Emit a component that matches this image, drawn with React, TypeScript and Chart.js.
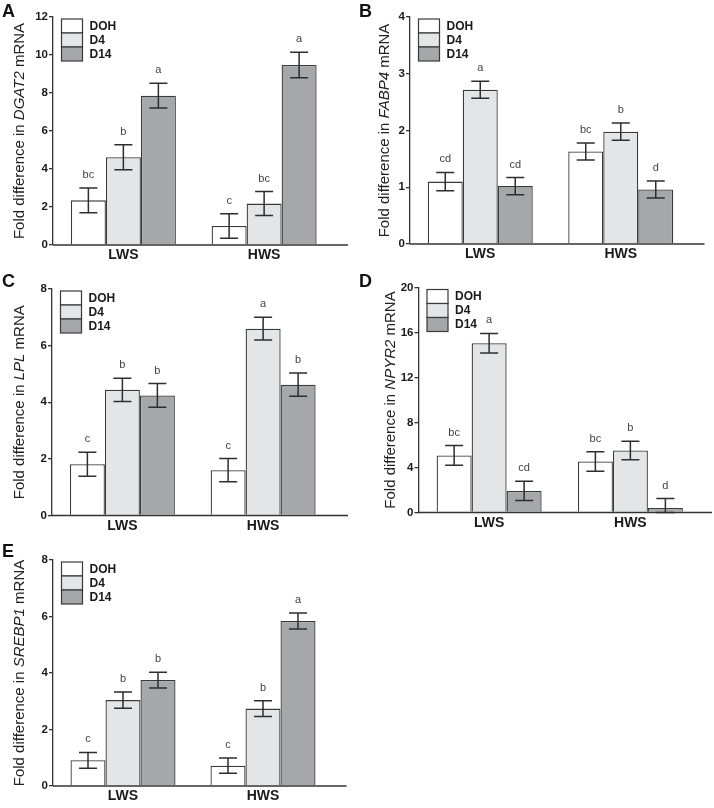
import React, { useEffect, useRef } from 'react';
import { Chart, registerables } from 'chart.js';

Chart.register(...registerables);

const FONT = '"Liberation Sans", Arial, Helvetica, sans-serif';

const categories = ['LWS', 'HWS'];
const seriesLabels = ['DOH', 'D4', 'D14'];
const seriesColors = ['#ffffff', '#e4e5e7', '#a6a7aa'];

// A: DGAT2
const dgat2DOH = [2.35, 1.0];
const dgat2D4 = [4.62, 2.18];
const dgat2D14 = [7.86, 9.47];
const dgat2ErrDOH = [0.65, 0.65];
const dgat2ErrD4 = [0.66, 0.63];
const dgat2ErrD14 = [0.65, 0.67];
const dgat2LetDOH = ['bc', 'c'];
const dgat2LetD4 = ['b', 'bc'];
const dgat2LetD14 = ['a', 'a'];

// B: FABP4
const fabp4DOH = [1.1, 1.63];
const fabp4D4 = [2.72, 1.98];
const fabp4D14 = [1.02, 0.96];
const fabp4ErrDOH = [0.16, 0.15];
const fabp4ErrD4 = [0.15, 0.15];
const fabp4ErrD14 = [0.15, 0.15];
const fabp4LetDOH = ['cd', 'bc'];
const fabp4LetD4 = ['a', 'b'];
const fabp4LetD14 = ['cd', 'd'];

// C: LPL
const lplDOH = [1.81, 1.6];
const lplD4 = [4.44, 6.6];
const lplD14 = [4.24, 4.62];
const lplErrDOH = [0.42, 0.41];
const lplErrD4 = [0.41, 0.4];
const lplErrD14 = [0.42, 0.41];
const lplLetDOH = ['c', 'c'];
const lplLetD4 = ['b', 'a'];
const lplLetD14 = ['b', 'b'];

// D: NPYR2
const npyr2DOH = [5.07, 4.53];
const npyr2D4 = [15.05, 5.51];
const npyr2D14 = [1.92, 0.41];
const npyr2ErrDOH = [0.88, 0.86];
const npyr2ErrD4 = [0.87, 0.82];
const npyr2ErrD14 = [0.86, 0.83];
const npyr2LetDOH = ['bc', 'bc'];
const npyr2LetD4 = ['a', 'b'];
const npyr2LetD14 = ['cd', 'd'];

// E: SREBP1
const srebp1DOH = [0.91, 0.72];
const srebp1D4 = [3.04, 2.74];
const srebp1D14 = [3.75, 5.84];
const srebp1ErrDOH = [0.28, 0.27];
const srebp1ErrD4 = [0.29, 0.28];
const srebp1ErrD14 = [0.28, 0.28];
const srebp1LetDOH = ['c', 'c'];
const srebp1LetD4 = ['b', 'b'];
const srebp1LetD14 = ['b', 'a'];

type Panel = {
  letter: string;
  gene: string;
  left: number;
  top: number;
  width: number;
  height: number;
  area: { l: number; t: number; r: number; b: number };
  axisExt: number;
  yMax: number;
  yStep: number;
  titleX: number;
  means: number[][];
  errs: number[][];
  letters: string[][];
};

const panels: Panel[] = [
  {
    letter: 'A', gene: 'DGAT2', left: 0, top: 0, width: 357, height: 270,
    area: { l: 53, t: 17, r: 334.5, b: 245 }, axisExt: 13.5, yMax: 12, yStep: 2, titleX: 19.5,
    means: [dgat2DOH, dgat2D4, dgat2D14], errs: [dgat2ErrDOH, dgat2ErrD4, dgat2ErrD14],
    letters: [dgat2LetDOH, dgat2LetD4, dgat2LetD14],
  },
  {
    letter: 'B', gene: 'FABP4', left: 357, top: 0, width: 357, height: 270,
    area: { l: 53, t: 17, r: 334, b: 244 }, axisExt: 13.5, yMax: 4, yStep: 1, titleX: 28,
    means: [fabp4DOH, fabp4D4, fabp4D14], errs: [fabp4ErrDOH, fabp4ErrD4, fabp4ErrD14],
    letters: [fabp4LetDOH, fabp4LetD4, fabp4LetD14],
  },
  {
    letter: 'C', gene: 'LPL', left: 0, top: 270, width: 357, height: 270,
    area: { l: 52, t: 19, r: 333.5, b: 245.5 }, axisExt: 14.5, yMax: 8, yStep: 2, titleX: 19.5,
    means: [lplDOH, lplD4, lplD14], errs: [lplErrDOH, lplErrD4, lplErrD14],
    letters: [lplLetDOH, lplLetD4, lplLetD14],
  },
  {
    letter: 'D', gene: 'NPYR2', left: 357, top: 270, width: 357, height: 270,
    area: { l: 61.5, t: 17.5, r: 344, b: 242.5 }, axisExt: 11, yMax: 20, yStep: 4, titleX: 34,
    means: [npyr2DOH, npyr2D4, npyr2D14], errs: [npyr2ErrDOH, npyr2ErrD4, npyr2ErrD14],
    letters: [npyr2LetDOH, npyr2LetD4, npyr2LetD14],
  },
  {
    letter: 'E', gene: 'SREBP1', left: 0, top: 540, width: 357, height: 268,
    area: { l: 53, t: 20, r: 333, b: 246 }, axisExt: 13.5, yMax: 8, yStep: 2, titleX: 19.5,
    means: [srebp1DOH, srebp1D4, srebp1D14], errs: [srebp1ErrDOH, srebp1ErrD4, srebp1ErrD14],
    letters: [srebp1LetDOH, srebp1LetD4, srebp1LetD14],
  },
];

function makeDecor(p: Panel) {
  return {
    id: 'decor' + p.letter,
    afterDatasetsDraw(chart: any) {
      const ctx: CanvasRenderingContext2D = chart.ctx;
      const ca = chart.chartArea;
      const yScale = chart.scales.y;
      ctx.save();
      // x axis line
      ctx.strokeStyle = '#333';
      ctx.lineWidth = 1.3;
      ctx.beginPath();
      ctx.moveTo(ca.left, ca.bottom);
      ctx.lineTo(ca.right + p.axisExt, ca.bottom);
      ctx.stroke();

      // error bars and letters
      chart.data.datasets.forEach((_ds: any, i: number) => {
        const meta = chart.getDatasetMeta(i);
        meta.data.forEach((bar: any, j: number) => {
          const m = p.means[i][j];
          const e = p.errs[i][j];
          const yTop = yScale.getPixelForValue(m + e);
          const yBot = yScale.getPixelForValue(Math.max(m - e, 0));
          const x = bar.x;
          ctx.strokeStyle = '#2e2e2e';
          ctx.lineWidth = 1.5;
          ctx.beginPath();
          ctx.moveTo(x, yTop);
          ctx.lineTo(x, yBot);
          ctx.moveTo(x - 9, yTop);
          ctx.lineTo(x + 9, yTop);
          ctx.moveTo(x - 9, yBot);
          ctx.lineTo(x + 9, yBot);
          ctx.stroke();
          ctx.fillStyle = '#444';
          ctx.font = `11px ${FONT}`;
          ctx.textAlign = 'center';
          ctx.textBaseline = 'alphabetic';
          ctx.fillText(p.letters[i][j], x, yTop - 10);
        });
      });

      // legend
      const lx = ca.left + 8.5;
      let ly = ca.top + 2;
      const rowH = 14;
      chart.data.datasets.forEach((ds: any) => {
        ctx.fillStyle = ds.backgroundColor;
        ctx.fillRect(lx, ly, 21, rowH);
        ctx.strokeStyle = '#3a3a3a';
        ctx.lineWidth = 1.2;
        ctx.strokeRect(lx, ly, 21, rowH);
        ctx.fillStyle = '#1a1a1a';
        ctx.font = `bold 12px ${FONT}`;
        ctx.textAlign = 'left';
        ctx.textBaseline = 'middle';
        ctx.fillText(ds.label, lx + 28, ly + rowH / 2 + 0.5);
        ly += rowH;
      });

      // panel letter
      ctx.fillStyle = '#111';
      ctx.font = `bold 18px ${FONT}`;
      ctx.textAlign = 'left';
      ctx.textBaseline = 'alphabetic';
      ctx.fillText(p.letter, 2, 17);

      // y title with italic gene name
      const parts = [
        { t: 'Fold difference in ', f: `15px ${FONT}` },
        { t: p.gene, f: `italic 15px ${FONT}` },
        { t: ' mRNA', f: `15px ${FONT}` },
      ];
      let total = 0;
      const widths = parts.map((pt) => {
        ctx.font = pt.f;
        const w = ctx.measureText(pt.t).width;
        total += w;
        return w;
      });
      ctx.translate(p.titleX, (ca.top + ca.bottom) / 2);
      ctx.rotate(-Math.PI / 2);
      let cx = -total / 2;
      ctx.fillStyle = '#222';
      ctx.textBaseline = 'middle';
      ctx.textAlign = 'left';
      parts.forEach((pt, k) => {
        ctx.font = pt.f;
        ctx.fillText(pt.t, cx, 0);
        cx += widths[k];
      });
      ctx.restore();
    },
  };
}

function PanelChart({ p }: { p: Panel }) {
  const ref = useRef<HTMLCanvasElement>(null);
  useEffect(() => {
    const catWidth = (p.area.r - p.area.l) / categories.length;
    const catPct = 105 / catWidth;
    const chart = new Chart(ref.current as HTMLCanvasElement, {
      type: 'bar',
      data: {
        labels: categories,
        datasets: seriesLabels.map((name, i) => ({
          label: name,
          data: p.means[i],
          backgroundColor: seriesColors[i],
          borderColor: '#3a3a3a',
          borderWidth: 1.3,
          barPercentage: 1,
          categoryPercentage: catPct,
        })),
      },
      options: {
        responsive: false,
        animation: false,
        devicePixelRatio: 1,
        layout: { padding: { left: 0, top: p.area.t, right: p.width - p.area.r, bottom: 0 } },
        plugins: {
          legend: { display: false },
          tooltip: { enabled: false },
          title: { display: false },
        },
        scales: {
          x: {
            grid: { display: false, drawTicks: false },
            border: { display: false },
            ticks: { color: '#1a1a1a', font: { family: FONT, size: 14, weight: 'bold' }, padding: 2 },
            afterFit: (s: any) => { s.height = p.height - p.area.b; },
          },
          y: {
            min: 0,
            max: p.yMax,
            ticks: { stepSize: p.yStep, color: '#1a1a1a', font: { family: FONT, size: 11.5, weight: 'bold' }, padding: 1 },
            grid: { drawOnChartArea: false, drawTicks: true, tickLength: 4, color: '#333', lineWidth: 1.3 },
            border: { display: true, color: '#333', width: 1.3 },
            afterFit: (s: any) => { s.width = p.area.l; },
          },
        },
      } as any,
      plugins: [makeDecor(p)],
    });
    return () => chart.destroy();
  }, []);
  return (
    <canvas
      ref={ref}
      width={p.width}
      height={p.height}
      style={{ position: 'absolute', left: p.left, top: p.top, width: p.width, height: p.height }}
    />
  );
}

export default function App() {
  return (
    <div style={{ position: 'absolute', left: 0, top: 0, width: 714, height: 808, background: '#fff', overflow: 'hidden' }}>
      {panels.map((p) => (
        <PanelChart key={p.letter} p={p} />
      ))}
    </div>
  );
}
